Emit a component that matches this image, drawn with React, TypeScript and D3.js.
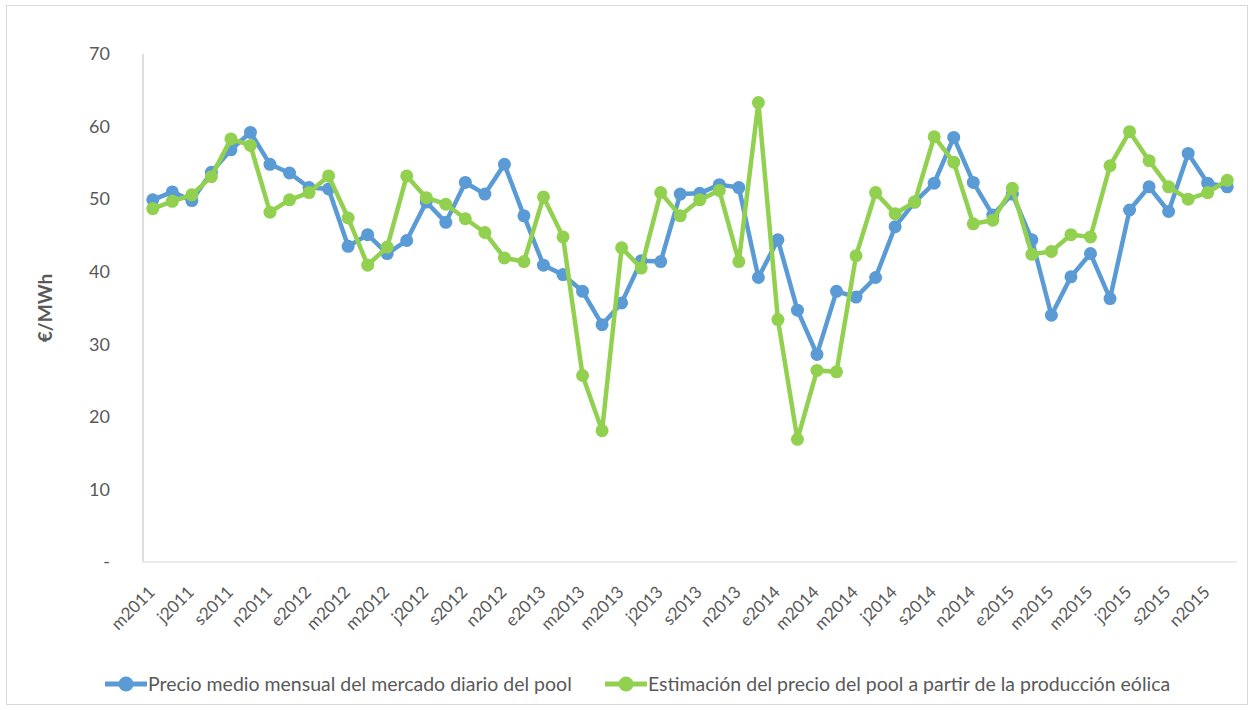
import React, { useEffect } from 'react';
import * as d3 from 'd3';

const categories = [
  "m2011","j2011","j2011","a2011","s2011","o2011","n2011","d2011",
  "e2012","f2012","m2012","a2012","m2012","j2012","j2012","a2012","s2012","o2012","n2012","d2012",
  "e2013","f2013","m2013","a2013","m2013","j2013","j2013","a2013","s2013","o2013","n2013","d2013",
  "e2014","f2014","m2014","a2014","m2014","j2014","j2014","a2014","s2014","o2014","n2014","d2014",
  "e2015","f2015","m2015","a2015","m2015","j2015","j2015","a2015","s2015","o2015","n2015","d2015"
];

const poolPrice = [
  49.9, 51.0, 49.8, 53.7, 56.8, 59.2, 54.8, 53.6, 51.6, 51.4,
  43.5, 45.1, 42.5, 44.3, 49.6, 46.8, 52.3, 50.7, 54.8, 47.7,
  40.9, 39.6, 37.3, 32.7, 35.7, 41.5, 41.4, 50.7, 50.8, 52.0,
  51.6, 39.2, 44.4, 34.7, 28.6, 37.3, 36.5, 39.2, 46.2, 49.6,
  52.2, 58.5, 52.3, 47.8, 50.7, 44.4, 34.0, 39.3, 42.5, 36.3,
  48.5, 51.7, 48.3, 56.3, 52.2, 51.7
];

const windEstimate = [
  48.7, 49.7, 50.6, 53.1, 58.3, 57.4, 48.2, 49.9, 50.9, 53.2,
  47.4, 40.9, 43.4, 53.2, 50.2, 49.3, 47.3, 45.4, 41.9, 41.4,
  50.3, 44.8, 25.7, 18.1, 43.3, 40.5, 50.9, 47.7, 49.9, 51.2,
  41.4, 63.3, 33.4, 16.9, 26.4, 26.2, 42.2, 50.9, 48.0, 49.6,
  58.6, 55.1, 46.6, 47.1, 51.5, 42.4, 42.8, 45.1, 44.8, 54.6,
  59.3, 55.3, 51.7, 50.0, 50.9, 52.6
];

const yTicks = [0, 10, 20, 30, 40, 50, 60, 70];
const seriesNames = [
  "Precio medio mensual del mercado diario del pool",
  "Estimación del precio del pool a partir de la producción eólica"
];
const seriesColors = ["#5B9BD5", "#92D050"];

const W = 1254, H = 710;
const plot = { left: 143, right: 1237, top: 54, bottom: 562 };
const FONT = "Lato, 'Open Sans', sans-serif";
const TXT = "#595959";

export default function App() {
  useEffect(() => {
    document.body.style.margin = "0";
  }, []);

  const idx = categories.map((_, i) => String(i));
  const x = d3.scaleBand<string>().domain(idx).range([plot.left, plot.right]);
  const y = d3.scaleLinear().domain([0, 70]).range([plot.bottom, plot.top]);
  const cx = (i: number) => (x(String(i)) as number) + x.bandwidth() / 2;

  const line = d3.line<number>().x((_, i) => cx(i)).y(d => y(d));
  const series = [poolPrice, windEstimate];

  return (
    <svg width={W} height={H} style={{ display: 'block', background: '#fff' }} fontFamily={FONT}>
      <rect x={6.5} y={5.5} width={W - 13} height={H - 11} fill="#fff" stroke="#D9D9D9" />
      <line x1={plot.left} x2={plot.left} y1={plot.top} y2={plot.bottom} stroke="#BFBFBF" strokeWidth={1} />
      <line x1={plot.left} x2={plot.right} y1={plot.bottom} y2={plot.bottom} stroke="#D9D9D9" strokeWidth={1} />
      {yTicks.map(t => (
        <text key={t} x={110} y={y(t)} dy="0.35em" textAnchor="end" fontSize={18} fill={TXT}>
          {t === 0 ? "-" : t}
        </text>
      ))}
      <g transform={`translate(45,${(plot.top + plot.bottom) / 2}) rotate(-90)`}>
        <text textAnchor="middle" fontSize={19} fontWeight="bold" fill={TXT} dy="0.35em">€/MWh</text>
      </g>
      {categories.map((c, i) => i % 2 === 0 ? (
        <g key={i} transform={`translate(${cx(i) - 1},${plot.bottom + 27}) rotate(-45)`}>
          <text textAnchor="end" fontSize={17} fill={TXT} dy="0.35em">{c}</text>
        </g>
      ) : null)}
      {series.map((s, k) => (
        <g key={k}>
          <path d={line(s) as string} fill="none" stroke={seriesColors[k]} strokeWidth={4.5} strokeLinejoin="round" />
          {s.map((v, i) => (
            <circle key={i} cx={cx(i)} cy={y(v)} r={6.5} fill={seriesColors[k]} />
          ))}
        </g>
      ))}
      {[0, 1].map(k => {
        const lx = k === 0 ? 105 : 605;
        const ly = 684;
        return (
          <g key={k}>
            <line x1={lx} x2={lx + 42} y1={ly} y2={ly} stroke={seriesColors[k]} strokeWidth={5} />
            <circle cx={lx + 21} cy={ly} r={7.5} fill={seriesColors[k]} />
            <text x={lx + 43} y={ly} dy="0.35em" fontSize={19.5} fill={TXT}>{seriesNames[k]}</text>
          </g>
        );
      })}
    </svg>
  );
}
